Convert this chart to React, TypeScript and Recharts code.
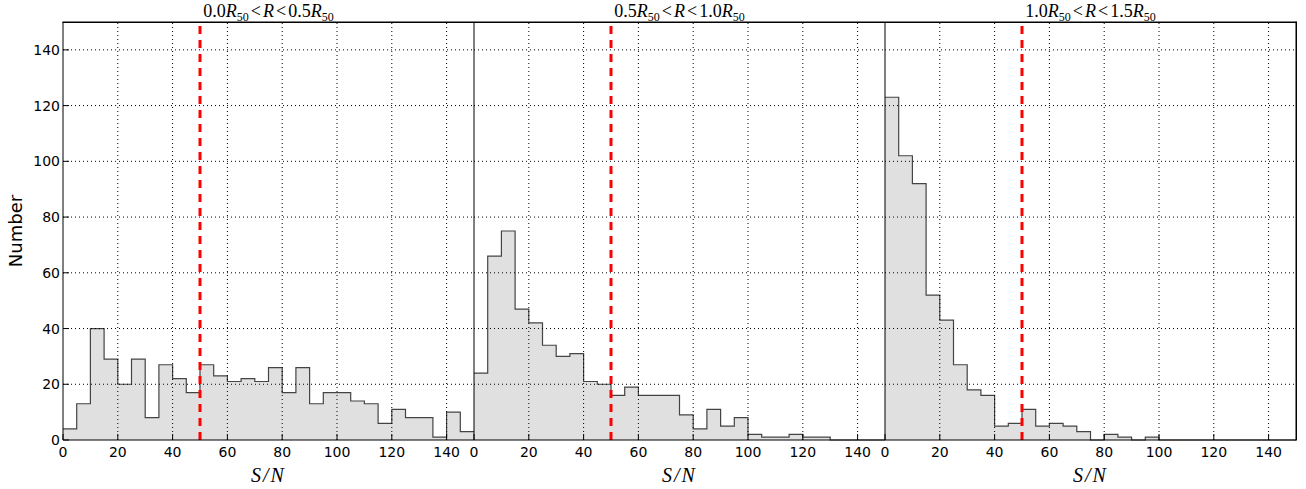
import { ComposedChart, Area, XAxis, YAxis, ReferenceLine } from 'recharts';

// bin edges of the S/N histograms (bin width 5), last edge closes the final step
const binEdges = [0, 5, 10, 15, 20, 25, 30, 35, 40, 45, 50, 55, 60, 65, 70, 75, 80, 85, 90, 95, 100, 105, 110, 115, 120, 125, 130, 135, 140, 145, 150];

const inner = [4, 13, 40, 29, 20, 29, 8, 27, 22, 17, 27, 23, 21, 22, 21, 26, 17, 26, 13, 17, 17, 14, 13, 6, 11, 8, 8, 1, 10, 3];
const middle = [24, 66, 75, 47, 42, 34, 30, 31, 21, 20, 16, 19, 16, 16, 16, 9, 4, 11, 5, 8, 2, 1, 1, 2, 1, 1, 0, 0, 0, 0];
const outer = [123, 102, 92, 52, 43, 27, 18, 16, 5, 6, 11, 5, 6, 5, 3, 0, 2, 1, 0, 1, 0, 0, 0, 0, 0, 0, 0, 0, 0, 0];

const xTicks = [0, 20, 40, 60, 80, 100, 120, 140];
const yTicks = [0, 20, 40, 60, 80, 100, 120, 140];
const cut = 50;

const titles = [
  ['0.0', '0.5'],
  ['0.5', '1.0'],
  ['1.0', '1.5'],
];

const PLOT_W = 411;
const PLOT_TOP = 22;
const PLOT_BOTTOM = 440;
const AXIS_W = 60;
const panelLefts = [63, 474, 885];

const tickFont = { fontFamily: 'DejaVu Sans', fontSize: 14, fill: '#000' };

function toSteps(counts: number[]) {
  return binEdges.map((x, i) => ({ x, v: i < counts.length ? counts[i] : counts[counts.length - 1] }));
}

function Panel({ counts, left, first }: { counts: number[]; left: number; first: boolean }) {
  const data = toSteps(counts);
  return (
    <div style={{ position: 'absolute', left: left - AXIS_W, top: 0 }}>
      <ComposedChart
        width={PLOT_W + AXIS_W + 20}
        height={489}
        data={data}
        margin={{ top: PLOT_TOP, right: 20, left: 0, bottom: 0 }}
      >
        <XAxis
          dataKey="x"
          type="number"
          domain={[0, 150]}
          ticks={xTicks}
          height={489 - PLOT_BOTTOM}
          tickSize={-6}
          tickMargin={13}
          tick={tickFont}
          axisLine={{ stroke: '#000' }}
          tickLine={{ stroke: '#000' }}
          interval={0}
        />
        <YAxis
          type="number"
          domain={[0, 150]}
          ticks={yTicks}
          width={AXIS_W}
          tickSize={-6}
          tickMargin={9}
          tick={first ? tickFont : false}
          axisLine={{ stroke: '#000' }}
          tickLine={{ stroke: '#000' }}
          interval={0}
        />
        <Area
          dataKey="v"
          type="stepAfter"
          fill="#e0e0e0"
          fillOpacity={1}
          stroke="#444"
          strokeWidth={1.2}
          isAnimationActive={false}
          dot={false}
          activeDot={false}
        />
        {xTicks.slice(1).map((t) => (
          <ReferenceLine key={'gx' + t} x={t} stroke="#000" strokeWidth={1} strokeDasharray="1 3" />
        ))}
        {yTicks.slice(1).map((t) => (
          <ReferenceLine key={'gy' + t} y={t} stroke="#000" strokeWidth={1} strokeDasharray="1 3" />
        ))}
        <ReferenceLine x={cut} stroke="#ff0000" strokeWidth={3} strokeDasharray="8 6" />
      </ComposedChart>
    </div>
  );
}

export default function App() {
  const series = [inner, middle, outer];
  const right = panelLefts[2] + PLOT_W;
  return (
    <div style={{ position: 'fixed', left: 0, top: 0, width: 1306, height: 489, background: '#fff' }}>
      {series.map((s, i) => (
        <Panel key={i} counts={s} left={panelLefts[i]} first={i === 0} />
      ))}
      <svg width={1306} height={489} style={{ position: 'absolute', left: 0, top: 0, pointerEvents: 'none' }}>
        {/* frame: top edge and outer right edge */}
        <rect x={panelLefts[0] - 0.5} y={PLOT_TOP - 0.5} width={right - panelLefts[0] + 1} height={1.5} fill="#000" />
        <rect x={right - 0.5} y={PLOT_TOP - 0.5} width={1.5} height={PLOT_BOTTOM - PLOT_TOP + 1} fill="#000" />
        {titles.map(([lo, hi], i) => (
          <text
            key={'t' + i}
            x={panelLefts[i] + PLOT_W / 2}
            y={17}
            textAnchor="middle"
            fontFamily="Liberation Serif"
            fontSize={18}
            fill="#000"
          >
            {lo}
            <tspan fontStyle="italic">R</tspan>
            <tspan fontSize={12} dy={4}>50</tspan>
            <tspan dy={-4} dx={2}>&lt;</tspan>
            <tspan fontStyle="italic" dx={2}>R</tspan>
            <tspan dx={2}>&lt;</tspan>
            <tspan dx={2}>{hi}</tspan>
            <tspan fontStyle="italic">R</tspan>
            <tspan fontSize={12} dy={4}>50</tspan>
          </text>
        ))}
        {panelLefts.map((l, i) => (
          <text
            key={'x' + i}
            x={l + PLOT_W / 2}
            y={482}
            textAnchor="middle"
            fontFamily="Liberation Serif"
            fontStyle="italic"
            fontSize={20}
            letterSpacing={2}
            fill="#000"
          >
            S/N
          </text>
        ))}
        <text
          x={0}
          y={0}
          transform="translate(22 231) rotate(-90)"
          textAnchor="middle"
          fontFamily="DejaVu Sans"
          fontSize={18}
          fill="#000"
        >
          Number
        </text>
      </svg>
    </div>
  );
}
